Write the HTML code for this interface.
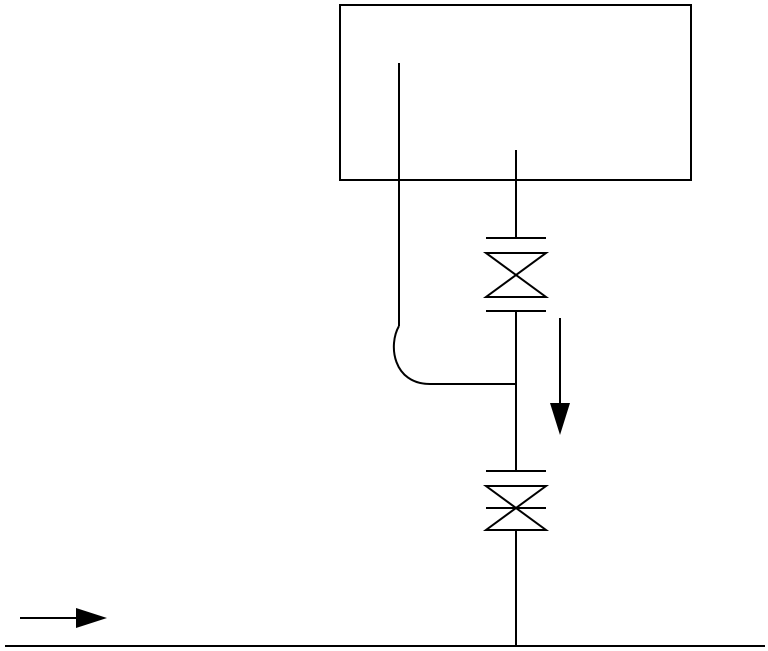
<!DOCTYPE html>
<html><head><style>html,body{margin:0;padding:0;background:#fff;width:768px;height:651px;overflow:hidden}</style></head>
<body>
<svg width="768" height="651" viewBox="0 0 768 651" xmlns="http://www.w3.org/2000/svg">
<g stroke="#000" stroke-width="2" fill="none">
<rect x="340" y="5" width="351" height="175"/>
<line x1="516" y1="150" x2="516" y2="238"/>
<line x1="486" y1="238" x2="546" y2="238"/>
<path d="M486 253 L546 253 L486 297 L546 297 Z"/>
<line x1="486" y1="311" x2="546" y2="311"/>
<line x1="516" y1="311" x2="516" y2="471"/>
<line x1="399" y1="63" x2="399" y2="326"/>
<path d="M399 326 C388 345 393 384 430 384 L516 384"/>
<line x1="560" y1="318" x2="560" y2="405"/>
<line x1="486" y1="471" x2="546" y2="471"/>
<path d="M486 486 L546 486 L486 530 L546 530 Z"/>
<line x1="486" y1="508" x2="546" y2="508"/>
<line x1="516" y1="530" x2="516" y2="646"/>
<line x1="5" y1="646" x2="765" y2="646"/>
<line x1="20" y1="618" x2="78" y2="618"/>
</g>
<polygon points="550,403 570,403 560,435" fill="#000"/>
<polygon points="76,608 76,628 107,618" fill="#000"/>
</svg>
</body></html>
